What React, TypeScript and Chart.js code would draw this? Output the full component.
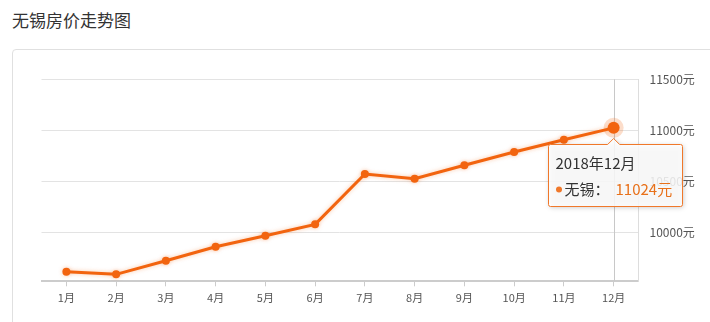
import React, { useEffect, useRef } from "react";
import { Chart, registerables } from "chart.js";

Chart.register(...registerables);

const categories = ["1月", "2月", "3月", "4月", "5月", "6月", "7月", "8月", "9月", "10月", "11月", "12月"];
const prices = [9614, 9588, 9722, 9859, 9967, 10078, 10572, 10525, 10657, 10787, 10908, 11024];
const yTickValues = [10000, 10500, 11000, 11500];
const yMin = 9520;
const yMax = 11500;
const unit = "元";
const seriesName = "无锡";
const tooltipTitle = "2018年12月";
const highlightIndex = 11;
const chartTitle = "无锡房价走势图";

const FONT = '"Noto Sans CJK SC", "Noto Sans", sans-serif';
const ORANGE = "#f2640f";

const overlayPlugin = {
  id: "overlay",
  beforeDatasetsDraw(chart: any) {
    const ctx = chart.ctx;
    const pt = chart.getDatasetMeta(0).data[highlightIndex];
    const area = chart.chartArea;
    ctx.save();
    ctx.strokeStyle = "#c8c8c8";
    ctx.lineWidth = 1;
    ctx.beginPath();
    const x = Math.round(pt.x) + 0.5;
    ctx.moveTo(x, area.top);
    ctx.lineTo(x, area.bottom);
    ctx.stroke();
    ctx.restore();
  },
  beforeDatasetDraw(chart: any) {
    const ctx = chart.ctx;
    ctx.save();
    ctx.shadowColor = "rgba(242,100,15,0.35)";
    ctx.shadowBlur = 4;
  },
  afterDatasetDraw(chart: any) {
    chart.ctx.restore();
  },
  afterDatasetsDraw(chart: any) {
    const ctx = chart.ctx;
    const pt = chart.getDatasetMeta(0).data[highlightIndex];
    const px = pt.x;
    const py = pt.y;
    // halo
    ctx.save();
    ctx.fillStyle = "rgba(242,100,15,0.22)";
    ctx.beginPath();
    ctx.arc(px, py, 10, 0, Math.PI * 2);
    ctx.fill();
    ctx.fillStyle = ORANGE;
    ctx.beginPath();
    ctx.arc(px, py, 6, 0, Math.PI * 2);
    ctx.fill();
    ctx.restore();

    // tooltip
    const w = 134;
    const h = 62;
    const left = Math.round(px - 66) + 0.5;
    const top = Math.round(py + 16.5) + 0.5;
    const r = 2;
    ctx.save();
    ctx.beginPath();
    ctx.moveTo(left + r, top);
    ctx.lineTo(px - 6, top);
    ctx.lineTo(px, top - 6);
    ctx.lineTo(px + 6, top);
    ctx.lineTo(left + w - r, top);
    ctx.quadraticCurveTo(left + w, top, left + w, top + r);
    ctx.lineTo(left + w, top + h - r);
    ctx.quadraticCurveTo(left + w, top + h, left + w - r, top + h);
    ctx.lineTo(left + r, top + h);
    ctx.quadraticCurveTo(left, top + h, left, top + h - r);
    ctx.lineTo(left, top + r);
    ctx.quadraticCurveTo(left, top, left + r, top);
    ctx.closePath();
    ctx.shadowColor = "rgba(0,0,0,0.25)";
    ctx.shadowBlur = 5;
    ctx.shadowOffsetX = 1;
    ctx.shadowOffsetY = 1;
    ctx.fillStyle = "rgba(255,255,255,0.85)";
    ctx.fill();
    ctx.shadowColor = "transparent";
    ctx.strokeStyle = "#f0782a";
    ctx.lineWidth = 1;
    ctx.stroke();

    ctx.textBaseline = "middle";
    ctx.textAlign = "left";
    ctx.font = `15px ${FONT}`;
    ctx.fillStyle = "#333";
    ctx.fillText(tooltipTitle, left + 7, top + 18.5);

    ctx.fillStyle = "#f0782a";
    ctx.beginPath();
    ctx.arc(left + 10.5, top + 45, 3, 0, Math.PI * 2);
    ctx.fill();

    ctx.fillStyle = "#333";
    ctx.fillText(seriesName + "：", left + 16, top + 45);
    ctx.fillStyle = "#e8711a";
    ctx.fillText(prices[highlightIndex] + unit, left + 67, top + 45);
    ctx.restore();
  },
};

export default function App() {
  const ref = useRef<HTMLCanvasElement>(null);

  useEffect(() => {
    if (!ref.current) return;
    const chart = new Chart(ref.current, {
      type: "line",
      data: {
        labels: categories,
        datasets: [
          {
            label: seriesName,
            data: prices,
            borderColor: ORANGE,
            backgroundColor: ORANGE,
            borderWidth: 3,
            tension: 0,
            pointRadius: (c: any) => (c.dataIndex === highlightIndex ? 0 : 4),
            pointBackgroundColor: ORANGE,
            pointBorderWidth: 0,
            fill: false,
          },
        ],
      },
      options: {
        responsive: false,
        animation: false,
        events: [],
        layout: { padding: { left: 41.5, top: 79.3, right: 0, bottom: 0 } },
        plugins: {
          legend: { display: false },
          tooltip: { enabled: false },
          title: { display: false },
        },
        scales: {
          x: {
            type: "category",
            offset: true,
            grid: {
              drawOnChartArea: false,
              drawTicks: true,
              tickLength: 5,
              color: "#cccccc",
            },
            border: { color: "#cccccc", width: 2 },
            ticks: {
              color: "#555",
              font: { size: 11, family: FONT },
              padding: 5,
              maxRotation: 0,
              autoSkip: false,
            },
            afterFit: (s: any) => {
              s.height = 40.7;
            },
          },
          y: {
            position: "right",
            min: yMin,
            max: yMax,
            afterBuildTicks: (s: any) => {
              s.ticks = yTickValues.map((v) => ({ value: v }));
            },
            grid: { color: "#e3e3e3", drawTicks: false },
            border: { display: true, color: "#dddddd" },
            ticks: {
              color: "#555",
              padding: 11,
              font: { size: 12, family: FONT },
              callback: (v: any) => v + unit,
            },
            afterFit: (s: any) => {
              s.width = 71.5;
            },
          },
        },
      },
      plugins: [overlayPlugin],
    });
    return () => chart.destroy();
  }, []);

  return (
    <div
      style={{
        position: "fixed",
        left: 0,
        top: 0,
        width: 710,
        height: 322,
        overflow: "hidden",
        background: "#fff",
        fontFamily: FONT,
      }}
    >
      <div
        style={{
          position: "absolute",
          left: 12,
          top: 8,
          fontSize: 17,
          lineHeight: "24px",
          color: "#333",
        }}
      >
        {chartTitle}
      </div>
      <div
        style={{
          position: "absolute",
          left: 12,
          top: 49,
          width: 740,
          height: 320,
          border: "1px solid #e0e0e0",
          borderRadius: 4,
          boxSizing: "border-box",
        }}
      />
      <canvas
        ref={ref}
        width={710}
        height={322}
        style={{ position: "absolute", left: 0, top: 0, width: 710, height: 322 }}
      />
    </div>
  );
}
